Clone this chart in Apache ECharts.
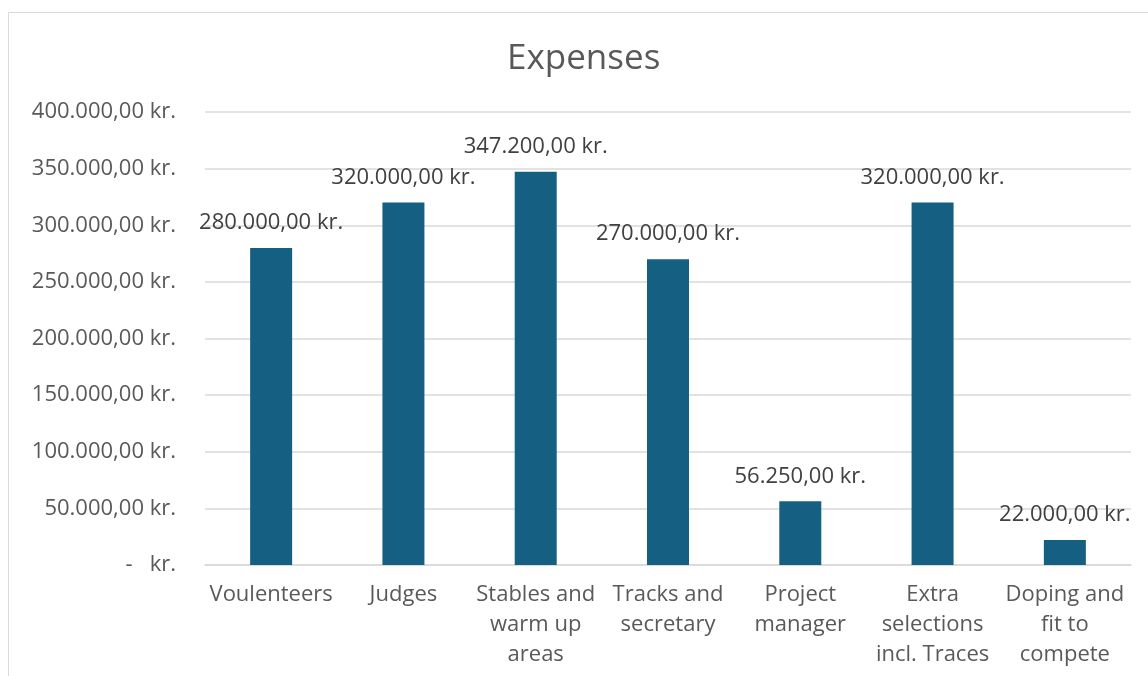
<!DOCTYPE html>
<html>
<head>
<meta charset="utf-8">
<script src="https://cdn.jsdelivr.net/npm/echarts@6/dist/echarts.min.js"></script>
<style>
html,body{margin:0;padding:0;background:#fff;}
#chart{width:1148px;height:676px;}
</style>
</head>
<body>
<div id="chart"></div>
<script>
const categories = ["Voulenteers", "Judges", "Stables and\nwarm up\nareas", "Tracks and\nsecretary", "Project\nmanager", "Extra\nselections\nincl. Traces", "Doping and\nfit to\ncompete"];
const expenses = [280000, 320000, 347200, 270000, 56250, 320000, 22000];
const titleText = "Expenses";

function fmt(v) {
  if (v === 0) return "-   kr.";
  const parts = v.toFixed(2).split(".");
  const intPart = parts[0].replace(/\B(?=(\d{3})+(?!\d))/g, ".");
  return intPart + "," + parts[1] + " kr.";
}

const FONT = "Open Sans";
const FS = 22;
const chart = echarts.init(document.getElementById('chart'));
chart.setOption({
  animation: false,
  backgroundColor: '#ffffff',
  textStyle: { fontFamily: FONT },
  graphic: [{
    type: 'rect', shape: { x: 8.5, y: 12.5, width: 1150, height: 680 },
    style: { fill: 'none', stroke: '#d9d9d9', lineWidth: 1 }, silent: true
  }],
  title: {
    text: titleText, left: 502, top: 37,
    textStyle: { fontFamily: FONT, fontSize: 35, fontWeight: 'normal', color: '#595959' }
  },
  grid: { left: 205, right: 17, top: 112, bottom: 111, containLabel: false },
  xAxis: {
    type: 'category', data: categories,
    axisLine: { show: true, lineStyle: { color: '#d9d9d9', width: 1.5 } },
    axisTick: { show: false },
    axisLabel: { margin: 15, fontSize: FS, color: '#595959', lineHeight: 30, interval: 0, fontFamily: FONT }
  },
  yAxis: {
    type: 'value', min: 0, max: 400000, interval: 50000,
    axisLine: { show: false }, axisTick: { show: false },
    splitLine: { lineStyle: { color: '#d9d9d9', width: 1.5 } },
    axisLabel: { margin: 29, fontSize: FS, color: '#595959', formatter: fmt, fontFamily: FONT }
  },
  series: [{
    type: 'bar', data: expenses, barWidth: 42,
    itemStyle: { color: '#156082' },
    label: { show: true, position: 'top', distance: 14, fontSize: FS, color: '#404040', formatter: p => fmt(p.value), fontFamily: FONT }
  }]
});
</script>
</body>
</html>
